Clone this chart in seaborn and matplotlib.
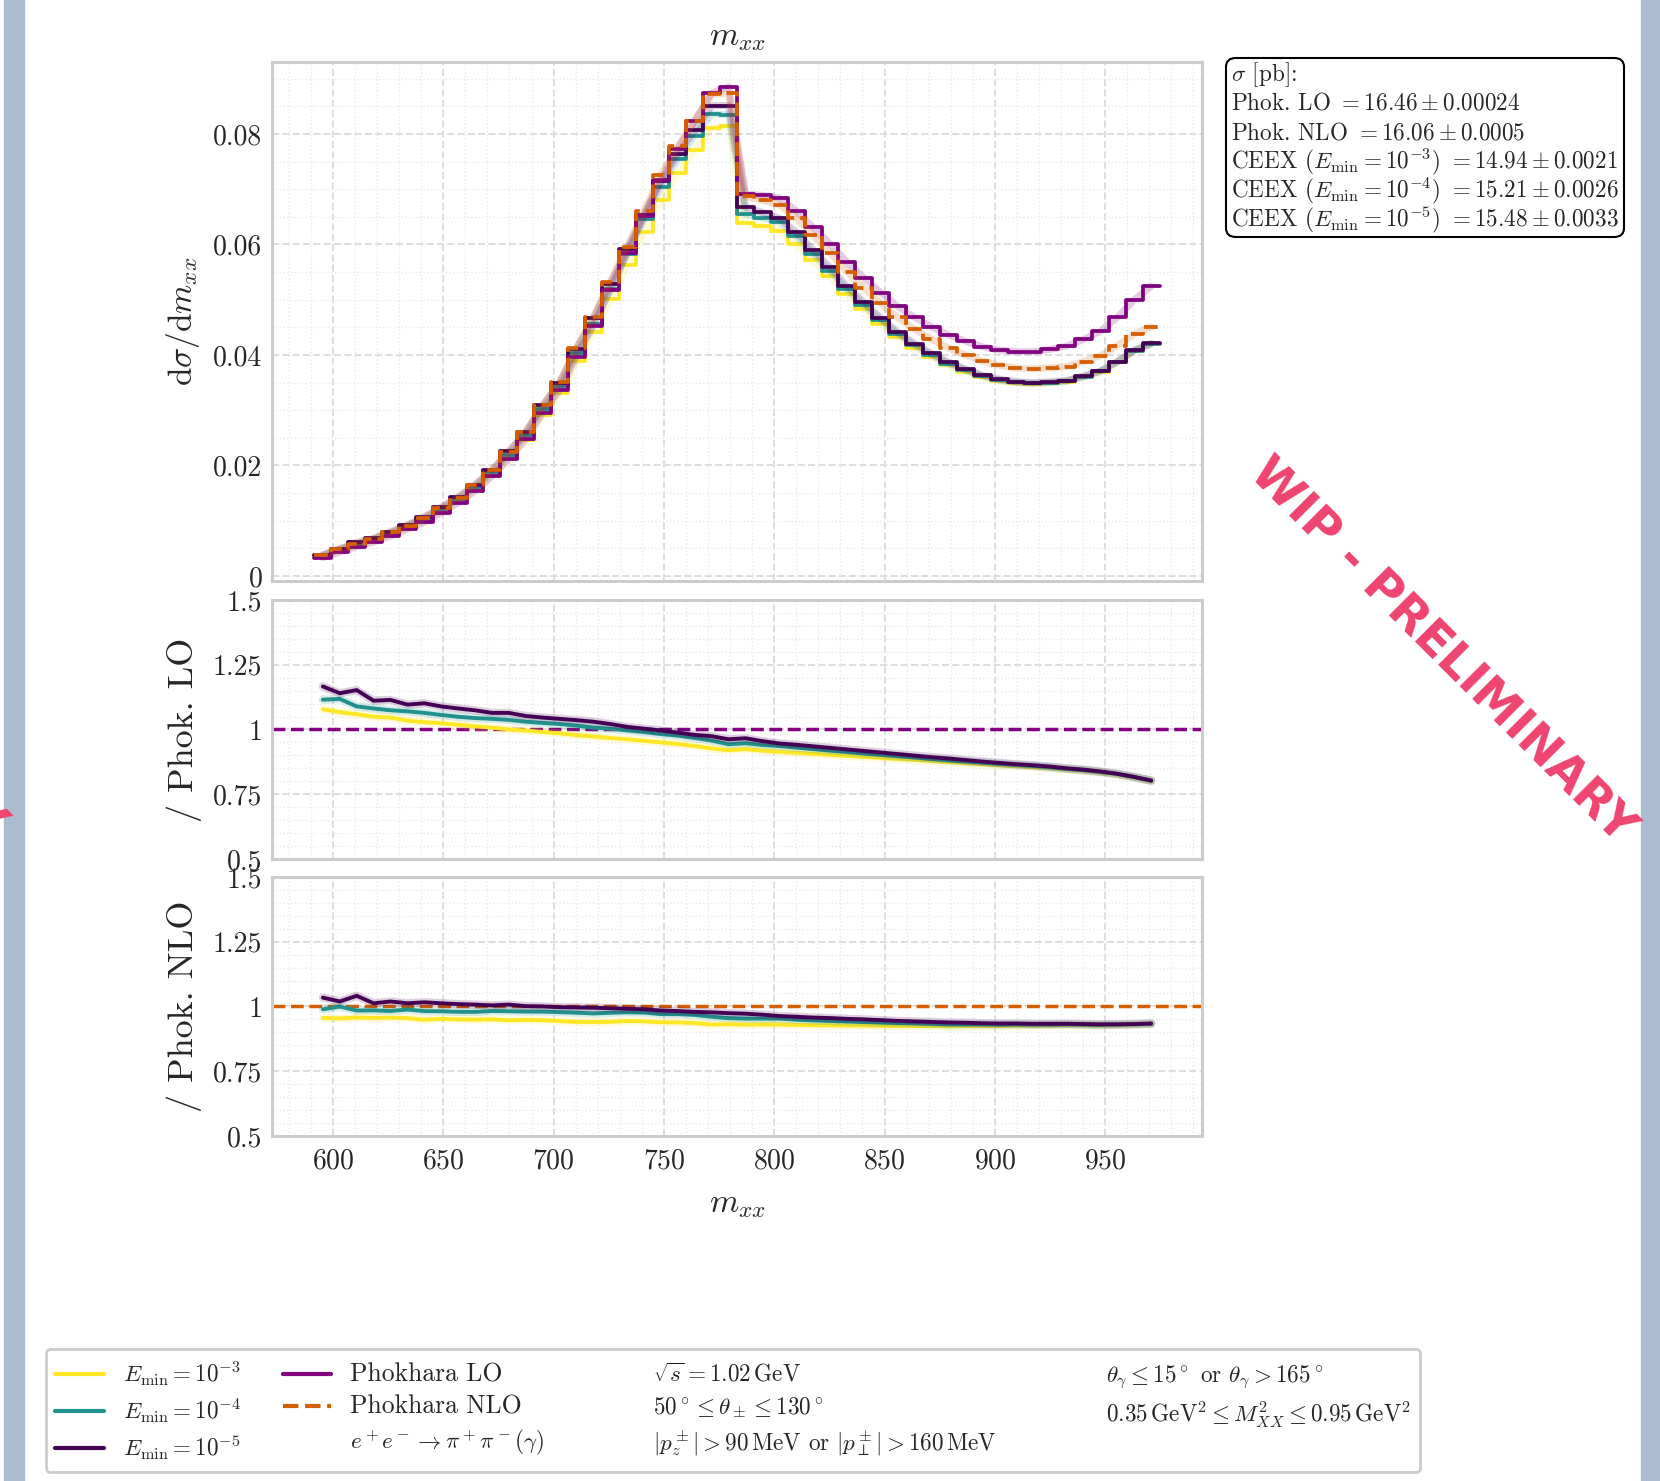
import numpy as np
import seaborn as sns
import matplotlib.pyplot as plt
from matplotlib.lines import Line2D
from matplotlib.patches import Rectangle, FancyBboxPatch
from matplotlib.ticker import MultipleLocator, AutoMinorLocator, FuncFormatter

# %% Section 1: values

# 50 bins in m_xx [MeV], from sqrt(0.35) to sqrt(0.95) GeV
n_bins = 50
m_low, m_high = 591.6, 974.7
edges = np.linspace(m_low, m_high, n_bins + 1)
centers = 0.5 * (edges[1:] + edges[:-1])

# Phokhara LO, d sigma / d m_xx
lo_vals = np.array([
    0.00332, 0.00433, 0.00530, 0.00614, 0.00722, 0.00843, 0.00975, 0.01144, 0.01325, 0.0154,
    0.01805, 0.0212, 0.0248, 0.0295, 0.0336, 0.0397, 0.0453, 0.0518, 0.0585, 0.0652,
    0.0717, 0.0773, 0.0824, 0.0874, 0.0885, 0.0691, 0.0689, 0.0684, 0.0661, 0.0631,
    0.0601, 0.0568, 0.0540, 0.0513, 0.0488, 0.0468, 0.0451, 0.0436, 0.0425, 0.0415,
    0.0409, 0.0406, 0.0406, 0.0410, 0.0416, 0.0428, 0.0443, 0.0468, 0.0500, 0.0524])

# CEEX / Phokhara LO (middle panel)
ratio_lo_e3 = np.array([
    1.078, 1.067, 1.059, 1.049, 1.046, 1.034, 1.028, 1.024, 1.018, 1.012,
    1.007, 1.000, 0.996, 0.990, 0.985, 0.978, 0.973, 0.967, 0.962, 0.956,
    0.950, 0.944, 0.936, 0.927, 0.920, 0.924, 0.918, 0.914, 0.910, 0.906,
    0.902, 0.898, 0.894, 0.890, 0.886, 0.882, 0.878, 0.874, 0.870, 0.866,
    0.862, 0.859, 0.855, 0.851, 0.846, 0.841, 0.834, 0.826, 0.815, 0.801])
ratio_lo_e4 = np.array([
    1.115, 1.118, 1.089, 1.081, 1.074, 1.070, 1.064, 1.056, 1.049, 1.044,
    1.041, 1.037, 1.030, 1.025, 1.021, 1.015, 1.007, 1.003, 0.996, 0.990,
    0.982, 0.976, 0.967, 0.957, 0.943, 0.947, 0.940, 0.936, 0.930, 0.924,
    0.918, 0.913, 0.907, 0.902, 0.897, 0.892, 0.886, 0.881, 0.876, 0.872,
    0.867, 0.863, 0.859, 0.854, 0.848, 0.843, 0.836, 0.828, 0.816, 0.802])
ratio_lo_e5 = np.array([
    1.166, 1.140, 1.152, 1.111, 1.114, 1.096, 1.101, 1.089, 1.081, 1.074,
    1.064, 1.064, 1.052, 1.046, 1.041, 1.036, 1.030, 1.021, 1.010, 1.003,
    0.996, 0.988, 0.979, 0.974, 0.962, 0.966, 0.955, 0.946, 0.941, 0.935,
    0.929, 0.923, 0.917, 0.911, 0.905, 0.899, 0.893, 0.888, 0.882, 0.876,
    0.871, 0.866, 0.862, 0.857, 0.850, 0.845, 0.838, 0.829, 0.817, 0.803])

# CEEX (E_min = 1e-5) / Phokhara NLO (bottom panel)
ratio_nlo_e5 = np.array([
    1.034, 1.019, 1.041, 1.012, 1.019, 1.012, 1.016, 1.012, 1.009, 1.007,
    1.004, 1.007, 1.001, 1.000, 0.997, 0.996, 0.995, 0.993, 0.991, 0.989,
    0.984, 0.982, 0.979, 0.977, 0.974, 0.972, 0.968, 0.963, 0.960, 0.957,
    0.955, 0.952, 0.950, 0.947, 0.944, 0.942, 0.940, 0.938, 0.937, 0.935,
    0.934, 0.934, 0.933, 0.933, 0.933, 0.932, 0.931, 0.931, 0.932, 0.934])

# total cross sections [pb]
sigma_names = ['Phok. LO', 'Phok. NLO', r'CEEX ($E_{\mathrm{min}} = 10^{-3}$)',
               r'CEEX ($E_{\mathrm{min}} = 10^{-4}$)', r'CEEX ($E_{\mathrm{min}} = 10^{-5}$)']
sigma_vals = ['16.46', '16.06', '14.94', '15.21', '15.48']
sigma_errs = ['0.00024', '0.0005', '0.0021', '0.0026', '0.0033']

# histograms of each sample
ceex_e3 = lo_vals * ratio_lo_e3
ceex_e4 = lo_vals * ratio_lo_e4
ceex_e5 = lo_vals * ratio_lo_e5
nlo_vals = ceex_e5 / ratio_nlo_e5

c_e3, c_e4, c_e5 = '#fde725', '#21918c', '#440154'
c_lo, c_nlo = '#800080', '#d55e00'

ceex = [(ceex_e3, c_e3, r'$E_{\mathrm{min}} = 10^{-3}$'),
        (ceex_e4, c_e4, r'$E_{\mathrm{min}} = 10^{-4}$'),
        (ceex_e5, c_e5, r'$E_{\mathrm{min}} = 10^{-5}$')]

# %% Section 2: plot
sns.set_style('whitegrid')
plt.rcParams['font.family'] = 'serif'
plt.rcParams['font.serif'] = ['cmr10']
plt.rcParams['mathtext.fontset'] = 'cm'
plt.rcParams['axes.formatter.use_mathtext'] = True
plt.rcParams['axes.unicode_minus'] = False

W, H = 1660, 1481
fig = plt.figure(figsize=(W/100, H/100), dpi=100)
fig.add_artist(Rectangle((4/W, 0), 20/W, 1, transform=fig.transFigure,
                         color='#abbbd0', zorder=-5))
fig.add_artist(Rectangle((1641/W, 0), 19/W, 1, transform=fig.transFigure,
                         color='#abbbd0', zorder=-5))

ax0 = fig.add_axes([0.1639, 0.6077, 0.5602, 0.3504])
ax1 = fig.add_axes([0.1639, 0.4200, 0.5602, 0.1749], sharex=ax0)
ax2 = fig.add_axes([0.1639, 0.2330, 0.5602, 0.1749], sharex=ax0)

lw = 2.7
bin_list = list(edges)
# top: differential cross sections
for vals, col, ls in [(ceex_e3, c_e3, '-'), (ceex_e4, c_e4, '-'), (ceex_e5, c_e5, '-'),
                      (lo_vals, c_lo, '-'), (nlo_vals, c_nlo, '--')]:
    sns.lineplot(x=centers, y=vals, ax=ax0, color=col, lw=5, alpha=0.2)
    sns.histplot(x=centers, weights=vals, bins=bin_list, element='step', fill=False,
                 ax=ax0, color=col, lw=lw, linestyle=ls)

# ratio panels
ax1.axhline(1, color=c_lo, ls='--', lw=2.5)
ax2.axhline(1, color=c_nlo, ls='--', lw=2.5)
for vals, col, _ in ceex:
    for ax, ref in [(ax1, lo_vals), (ax2, nlo_vals)]:
        sns.lineplot(x=centers, y=vals / ref, ax=ax, color=col, lw=6, alpha=0.18)
        sns.lineplot(x=centers, y=vals / ref, ax=ax, color=col, lw=2.8)

fmt = FuncFormatter(lambda v, p: f'{v:g}')
for ax in (ax0, ax1, ax2):
    ax.set_xlim(572.4, 993.9)
    ax.xaxis.set_major_locator(MultipleLocator(50))
    ax.xaxis.set_minor_locator(AutoMinorLocator(5))
    ax.yaxis.set_major_formatter(fmt)
    ax.grid(which='major', ls='--', color='#dedede', lw=1.4)
    ax.grid(which='minor', ls=':', color='#e8e8e8', lw=1.0)
    ax.tick_params(which='both', length=0, pad=7, labelsize=20)
    ax.tick_params(axis='x', pad=9)
    for sp in ax.spines.values():
        sp.set_color('#cccccc')
        sp.set_linewidth(2.2)
    ax.set_xlabel('')

ax0.set_ylim(-0.0009, 0.0930)
ax0.yaxis.set_major_locator(MultipleLocator(0.02))
ax0.yaxis.set_minor_locator(AutoMinorLocator(4))
for ax in (ax1, ax2):
    ax.set_ylim(0.5, 1.5)
    ax.yaxis.set_major_locator(MultipleLocator(0.25))
    ax.yaxis.set_minor_locator(AutoMinorLocator(5))
ax0.tick_params(labelbottom=False)
ax1.tick_params(labelbottom=False)

ax0.set_title(r'$m_{xx}$', fontsize=24, pad=12)
ax0.set_ylabel(r'$\mathrm{d}\sigma/\mathrm{d}m_{xx}$', fontsize=24, labelpad=8)
ax1.set_ylabel('/ Phok. LO', fontsize=26, labelpad=8)
ax2.set_ylabel('/ Phok. NLO', fontsize=26, labelpad=8)
ax2.set_xlabel(r'$m_{xx}$', fontsize=24, labelpad=12)
fig.align_ylabels([ax0, ax1, ax2])

# cross section box: rounded frame, one text per line on an even baseline grid
fig.add_artist(FancyBboxPatch((1226/W, 1 - 237/H), 398/W, 179/H,
                              boxstyle='round,pad=0,rounding_size=0.006',
                              transform=fig.transFigure, fc='white', ec='black', lw=1.5))
lines = [r'$\sigma$ [pb]:'] + [f'{n} $= {v} \\pm {e}$'
                               for n, v, e in zip(sigma_names, sigma_vals, sigma_errs)]
for i, line in enumerate(lines):
    fig.text(1231/W, 1 - (81 + 29 * i)/H, line, ha='left', va='baseline', fontsize=16.7)

# legend with cuts
blank = Line2D([], [], color='none')
handles = [Line2D([], [], color=c, lw=3) for _, c, _ in ceex] + [
    Line2D([], [], color=c_lo, lw=3), Line2D([], [], color=c_nlo, lw=3, ls='--'), blank,
    blank, blank, blank, blank, blank, blank]
labels = [l for _, _, l in ceex] + [
    'Phokhara LO', 'Phokhara NLO', r'$e^+e^- \to \pi^+\pi^-(\gamma)$',
    r'$\sqrt{s} = 1.02\,\mathrm{GeV}$', r'$50^\circ \leq \theta_\pm \leq 130^\circ$',
    r'$|p_z^\pm| > 90\,\mathrm{MeV}$ or $|p_\perp^\pm| > 160\,\mathrm{MeV}$',
    r'$\theta_\gamma \leq 15^\circ$ or $\theta_\gamma > 165^\circ$',
    r'$0.35\,\mathrm{GeV}^2 \leq M_{XX}^2 \leq 0.95\,\mathrm{GeV}^2$', '']
leg = fig.legend(handles, labels, ncol=4, loc='lower left',
                 bbox_to_anchor=(45.5/W, 9.5/H), borderaxespad=0, fontsize=16.7,
                 frameon=True, fancybox=True, edgecolor='#cccccc', framealpha=1,
                 columnspacing=1.8, labelspacing=0.36, borderpad=0.42, handlelength=2.1)
leg.get_frame().set_linewidth(2)
for t in leg.get_texts():
    if t.get_text().startswith('Phokhara'):
        t.set_fontsize(18.5)

wip = dict(rotation=-45, ha='center', va='center', fontsize=34.5, fontweight='bold',
           color='#ef4470', family='DejaVu Sans')
fig.text(1442/W, 1 - 650/H, 'WIP - PRELIMINARY', **wip)
# tail of the neighbouring panel's stamp, cut by the left edge
fig.text(-188/W, 1 - 645/H, 'WIP - PRELIMINARY', **wip)

fig.savefig('out.png', dpi=100)
